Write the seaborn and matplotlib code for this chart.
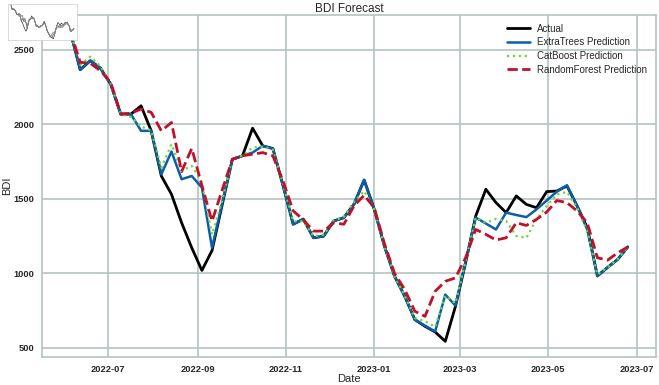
import matplotlib
matplotlib.use('Agg')
import matplotlib.pyplot as plt
import matplotlib.dates as mdates
import pandas as pd
import seaborn as sns

# weekly dates (Sundays)
dates = pd.date_range('2022-06-05', '2023-06-25', freq='7D')

actual = [2630, 2367, 2428, 2377, 2271, 2069, 2069, 2125, 1957, 1654,
          1531, 1340, 1172, 1020, 1154, 1460, 1766, 1789, 1975, 1856,
          1838, 1590, 1330, 1365, 1239, 1250, 1352, 1374, 1465, 1627,
          1430, 1183, 981, 847, 690, 645, 607, 544, 778, 1070,
          1385, 1565, 1475, 1408, 1520, 1463, 1441, 1549, 1553, 1587,
          1453, 1307, 983, 1040, 1094, 1178]
extratrees = [2630, 2367, 2428, 2377, 2271, 2069, 2069, 1957, 1957, 1665,
              1818, 1632, 1654, 1576, 1172, 1470, 1766, 1789, 1811, 1856,
              1838, 1590, 1330, 1363, 1239, 1250, 1352, 1374, 1465, 1627,
              1430, 1183, 981, 847, 690, 649, 610, 858, 784, 1080,
              1375, 1335, 1295, 1408, 1392, 1378, 1430, 1489, 1549, 1592,
              1453, 1295, 983, 1040, 1094, 1178]
catboost = [2630, 2400, 2455, 2390, 2271, 2069, 2050, 1985, 1960, 1710,
            1867, 1690, 1722, 1610, 1262, 1490, 1766, 1790, 1845, 1850,
            1830, 1600, 1350, 1350, 1250, 1260, 1355, 1380, 1480, 1553,
            1430, 1183, 981, 850, 700, 680, 640, 850, 800, 1080,
            1375, 1340, 1366, 1352, 1251, 1239, 1363, 1453, 1531, 1547,
            1441, 1284, 992, 1040, 1094, 1178]
randomforest = [2630, 2417, 2410, 2360, 2283, 2070, 2075, 2103, 2081, 1957,
                2013, 1683, 1839, 1590, 1351, 1560, 1765, 1790, 1800, 1811,
                1789, 1620, 1420, 1360, 1284, 1284, 1340, 1330, 1453, 1525,
                1440, 1200, 1000, 892, 746, 712, 880, 947, 970, 1105,
                1295, 1262, 1224, 1239, 1340, 1322, 1363, 1412, 1489, 1475,
                1419, 1340, 1105, 1089, 1138, 1178]

df = pd.DataFrame({'Date': dates, 'Actual': actual,
                   'ExtraTrees Prediction': extratrees,
                   'CatBoost Prediction': catboost,
                   'RandomForest Prediction': randomforest})

sns.set_style('whitegrid', {'grid.color': '#b3c3c3', 'axes.edgecolor': '#b3c3c3'})
plt.rcParams['font.family'] = ['Liberation Sans', 'DejaVu Sans']

fig = plt.figure(figsize=(6.59, 3.85), dpi=100)
ax = fig.add_axes([0.064, 0.073, 0.931, 0.888])

sns.lineplot(data=df, x='Date', y='Actual', ax=ax, color='black', lw=2, label='Actual')
sns.lineplot(data=df, x='Date', y='ExtraTrees Prediction', ax=ax, color='#0b5ea8', lw=1.8,
             label='ExtraTrees Prediction')
sns.lineplot(data=df, x='Date', y='CatBoost Prediction', ax=ax, color='#6fd63a', lw=1.6,
             ls=':', label='CatBoost Prediction')
sns.lineplot(data=df, x='Date', y='RandomForest Prediction', ax=ax, color='#c0102a', lw=2,
             ls='--', label='RandomForest Prediction')

ax.set_title('BDI Forecast', fontsize=8.5, pad=2)
ax.set_xlabel('Date', fontsize=8, labelpad=0)
ax.set_ylabel('BDI', fontsize=8, labelpad=1)
ax.set_yticks([500, 1000, 1500, 2000, 2500])
ax.xaxis.set_major_locator(mdates.MonthLocator(bymonth=[1, 3, 5, 7, 9, 11]))
ax.xaxis.set_major_formatter(mdates.DateFormatter('%Y-%m'))
ax.tick_params(labelsize=6.7, pad=2)
for lab in ax.get_xticklabels() + ax.get_yticklabels():
    lab.set_fontweight('bold')
ax.grid(lw=1.2)
for s in ax.spines.values():
    s.set_linewidth(1.2)
ax.legend(loc='upper right', frameon=False, fontsize=7, handlelength=2.4,
          labelspacing=0.37, handletextpad=0.7, bbox_to_anchor=(1.0, 1.0))

# small thumbnail copy in the corner
ins = fig.add_axes([0.012, 0.895, 0.105, 0.095])
for col, c in zip(['Actual', 'ExtraTrees Prediction', 'CatBoost Prediction', 'RandomForest Prediction'],
                  ['#333333', '#666666', '#999999', '#777777']):
    ins.plot(df['Date'], df[col], color=c, lw=0.5)
ins.set_xticks([])
ins.set_yticks([])
ins.grid(False)
for s in ins.spines.values():
    s.set_color('#cccccc')
    s.set_linewidth(0.5)

fig.savefig('out.png', dpi=100)
